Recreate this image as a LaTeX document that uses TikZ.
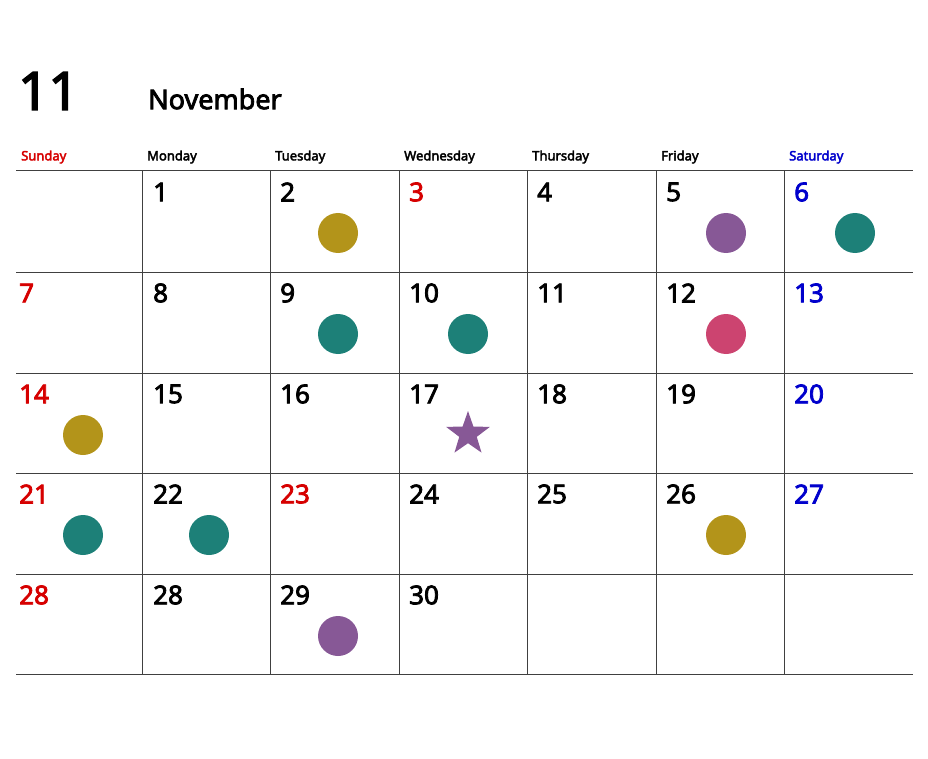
\documentclass[tikz,border=0pt]{standalone}
\usepackage{fontspec}
\setmainfont{Noto Sans}
\newfontfamily\medfont{Noto Sans}[FakeBold=3]
\usetikzlibrary{shapes.geometric}

\definecolor{sunred}{RGB}{214,0,0}
\definecolor{satblue}{RGB}{0,0,204}
\definecolor{gridgray}{RGB}{64,64,64}
\definecolor{spotgold}{RGB}{179,148,26}
\definecolor{spotteal}{RGB}{29,128,120}
\definecolor{spotpurple}{RGB}{135,88,150}
\definecolor{spotpink}{RGB}{204,68,112}

\tikzset{
  gridline/.style={draw=gridgray,line width=1pt},
  dayhead/.style={anchor=west,inner sep=0,font=\medfont\fontsize{13}{13}\selectfont},
  daynum/.style={anchor=west,inner sep=0,font=\medfont\fontsize{26}{26}\selectfont},
  spot/.style={circle,fill=#1,minimum size=40pt,inner sep=0},
}

\begin{document}
\begin{tikzpicture}[x=1pt,y=-1pt]
    \useasboundingbox (0,0) rectangle (928,759);
    \node[anchor=west,inner sep=0,font=\medfont\fontsize{53}{53}\selectfont] (month) at (18,91) {11};
    \node[anchor=west,inner sep=0,font=\medfont\fontsize{27}{27}\selectfont] (monthname) at (148,99) {November};

    % weekday heads
    \foreach \c/\name/\col in {0/Sunday/sunred,1/Monday/black,2/Tuesday/black,
        3/Wednesday/black,4/Thursday/black,5/Friday/black,6/Saturday/satblue} {
        \pgfmathsetmacro\cx{{16,142,270,399,527,656,784}[\c]}
        \node[dayhead,text=\col] (h\c) at (\cx+5,157) {\name};
    }

    % grid
    \foreach \y in {171,272,373,473,574,674}
        \draw[gridline] (16,\y) -- (913,\y);
    \foreach \x in {142,270,399,527,656,784}
        \draw[gridline] (\x,171) -- (\x,674);

    % dates (first column sits closer to the edge)
    \foreach \n/\c/\r/\col in {1/1/0/black,2/2/0/black,3/3/0/sunred,4/4/0/black,5/5/0/black,6/6/0/satblue,
        7/0/1/sunred,8/1/1/black,9/2/1/black,10/3/1/black,11/4/1/black,12/5/1/black,13/6/1/satblue,
        14/0/2/sunred,15/1/2/black,16/2/2/black,17/3/2/black,18/4/2/black,19/5/2/black,20/6/2/satblue,
        21/0/3/sunred,22/1/3/black,23/2/3/sunred,24/3/3/black,25/4/3/black,26/5/3/black,27/6/3/satblue,
        28/0/4/sunred,28/1/4/black,29/2/4/black,30/3/4/black} {
        \pgfmathsetmacro\cx{{19,153,280,409,537,666,794}[\c]}
        \pgfmathsetmacro\ry{{171,272,373,473,574}[\r]}
        \node[daynum,text=\col] (d\c-\r) at (\cx,\ry+21) {\n};
    }

    % marks
    \foreach \c/\r/\col in {2/0/spotgold,5/0/spotpurple,6/0/spotteal,
        2/1/spotteal,3/1/spotteal,5/1/spotpink,0/2/spotgold,
        0/3/spotteal,1/3/spotteal,5/3/spotgold,2/4/spotpurple} {
        \pgfmathsetmacro\cx{{83,209,338,468,597,726,855}[\c]}
        \pgfmathsetmacro\ry{{171,272,373,473,574}[\r]}
        \node[spot=\col] (m\c-\r) at (\cx,\ry+62) {};
    }
    \node[star,star points=5,star point ratio=2.5,fill=spotpurple,minimum size=46pt,inner sep=0] (m3-2) at (468,434) {};
\end{tikzpicture}
\end{document}
